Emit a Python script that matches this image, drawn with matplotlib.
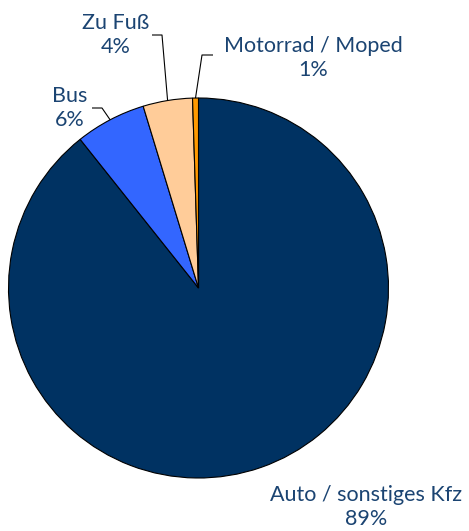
import matplotlib
matplotlib.use("Agg")
import matplotlib.pyplot as plt
import numpy as np

categories = ["Auto / sonstiges Kfz", "Bus", "Zu Fuß", "Motorrad / Moped"]
values = [89.3, 6.0, 4.2, 0.5]
pct_labels = ["89%", "6%", "4%", "1%"]
colors = ["#003262", "#3366ff", "#ffcc99", "#ff9900"]

W, H = 469, 531
fig = plt.figure(figsize=(W / 100, H / 100), dpi=100)
ax = fig.add_axes([0, 0, 1, 1])
ax.set_xlim(0, W)
ax.set_ylim(0, H)
ax.set_aspect("equal")
ax.axis("off")

cx, cy, r = 198.5, H - 288, 190
wedges, _ = ax.pie(values, colors=colors, startangle=90, counterclock=False,
                   center=(cx, cy), radius=r,
                   wedgeprops=dict(edgecolor="black", linewidth=0.8))
ax.set_xlim(0, W)
ax.set_ylim(0, H)

text_color = "#1b4472"
font = dict(family=["Lato", "DejaVu Sans"], fontsize=15.5, color=text_color)

# label positions (text centre, pixel coords from top)
label_pos = [(366, 507), (70, 108), (116, 35), (313, 58)]
# leader line elbows (pixel coords from top) for small slices
elbows = [None, ((92, 108), (102, 108)), ((152, 35), (162, 35)), ((213, 55), (202, 55))]

for w, cat, pct, (lx, ly), el in zip(wedges, categories, pct_labels, label_pos, elbows):
    ax.text(lx, H - ly, f"{cat}\n{pct}", ha="center", va="center",
            linespacing=1.2, **font)
    if el is not None:
        mid = np.deg2rad((w.theta1 + w.theta2) / 2)
        ex, ey = cx + r * np.cos(mid), cy + r * np.sin(mid)
        (x0, y0), (x1, y1) = el
        ax.plot([x0, x1, ex], [H - y0, H - y1, ey], color="black", lw=0.8,
                solid_capstyle="butt")

fig.savefig("out.png", dpi=100)
